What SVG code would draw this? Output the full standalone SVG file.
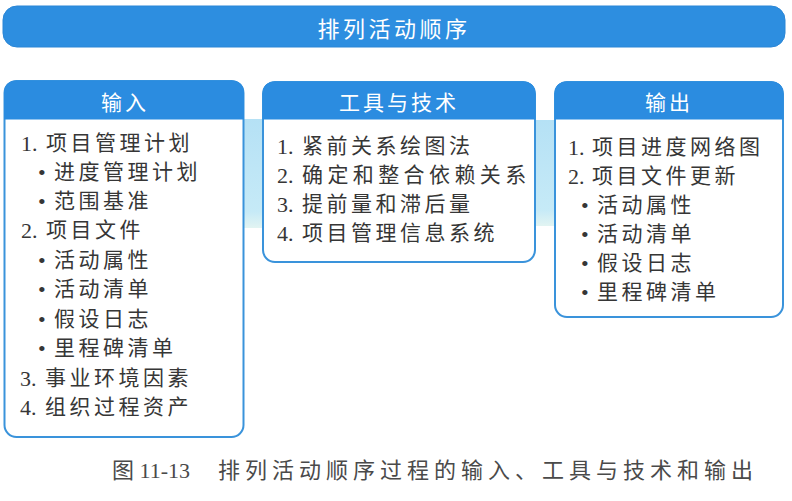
<svg xmlns="http://www.w3.org/2000/svg" width="792" height="501" viewBox="0 0 792 501">
  <defs>
    <linearGradient id="band" x1="0" y1="0" x2="0" y2="1">
      <stop offset="0" stop-color="#b5e1f5"/>
      <stop offset="0.85" stop-color="#c6eaf7"/>
      <stop offset="1" stop-color="#e2f4f2"/>
    </linearGradient>
  </defs>
  <style>
    .box { fill: #ffffff; stroke: #3a93db; stroke-width: 2; }
    .head { fill: #2b8ce0; stroke: #2b8ce0; stroke-width: 1; }
    .htxt { font-family: "Noto Sans CJK SC", "Liberation Serif", serif; font-size: 21px; fill: #ffffff; text-anchor: middle; dominant-baseline: central; letter-spacing: 3px; }
    .txt { font-family: "Liberation Serif", "Noto Sans CJK SC", serif; font-size: 21px; fill: #363636; dominant-baseline: central; letter-spacing: 3.5px; }
    .n { letter-spacing: 0px; font-size: 22px; }
    .cap { font-family: "Liberation Serif", "Noto Sans CJK SC", serif; font-size: 22px; fill: #4a4a4a; dominant-baseline: central; letter-spacing: 0px; }
    .capc { letter-spacing: 5px; }
  </style>
  <rect width="792" height="501" fill="#ffffff"/>

  <g id="connectors">
    <rect x="244" y="119" width="18" height="109" fill="url(#band)"/>
    <rect x="536" y="120" width="18" height="106" fill="url(#band)"/>
  </g>

  <g id="banner">
    <rect x="3" y="6" width="782" height="41" rx="14" fill="#2d8ee0" stroke="#2a86d6" stroke-width="1"/>
    <text class="htxt" x="394" y="27" style="font-size:22px;letter-spacing:3.5px">排列活动顺序</text>
  </g>

  <g id="inputs">
    <rect class="box" x="4.5" y="81" width="239" height="356" rx="12"/>
    <path class="head" d="M4.5,119 V93 Q4.5,81 16.5,81 H231.5 Q243.5,81 243.5,93 V119 Z"/>
    <text class="htxt" x="125" y="101">输入</text>
    <text class="txt" y="143"><tspan class="n" x="21">1.</tspan><tspan x="46">项目管理计划</tspan></text>
    <text class="txt" y="172"><tspan class="n" x="38">•</tspan><tspan x="54">进度管理计划</tspan></text>
    <text class="txt" y="201"><tspan class="n" x="38">•</tspan><tspan x="54">范围基准</tspan></text>
    <text class="txt" y="230"><tspan class="n" x="21">2.</tspan><tspan x="46">项目文件</tspan></text>
    <text class="txt" y="260"><tspan class="n" x="38">•</tspan><tspan x="54">活动属性</tspan></text>
    <text class="txt" y="289"><tspan class="n" x="38">•</tspan><tspan x="54">活动清单</tspan></text>
    <text class="txt" y="319"><tspan class="n" x="38">•</tspan><tspan x="54">假设日志</tspan></text>
    <text class="txt" y="348"><tspan class="n" x="38">•</tspan><tspan x="54">里程碑清单</tspan></text>
    <text class="txt" y="378"><tspan class="n" x="20">3.</tspan><tspan x="45">事业环境因素</tspan></text>
    <text class="txt" y="407"><tspan class="n" x="20">4.</tspan><tspan x="45">组织过程资产</tspan></text>
  </g>

  <g id="tools">
    <rect class="box" x="263" y="82" width="272" height="180" rx="12"/>
    <path class="head" d="M263,119 V94 Q263,82 275,82 H523 Q535,82 535,94 V119 Z"/>
    <text class="htxt" x="399" y="101">工具与技术</text>
    <text class="txt" y="146"><tspan class="n" x="277">1.</tspan><tspan x="302">紧前关系绘图法</tspan></text>
    <text class="txt" y="175"><tspan class="n" x="277">2.</tspan><tspan x="302" style="letter-spacing:4.4px">确定和整合依赖关系</tspan></text>
    <text class="txt" y="204"><tspan class="n" x="277">3.</tspan><tspan x="302">提前量和滞后量</tspan></text>
    <text class="txt" y="233"><tspan class="n" x="277">4.</tspan><tspan x="302">项目管理信息系统</tspan></text>
  </g>

  <g id="outputs">
    <rect class="box" x="555" y="82" width="228" height="235" rx="12"/>
    <path class="head" d="M555,119 V94 Q555,82 567,82 H771 Q783,82 783,94 V119 Z"/>
    <text class="htxt" x="669" y="101">输出</text>
    <text class="txt" y="147"><tspan class="n" x="568">1.</tspan><tspan x="592">项目进度网络图</tspan></text>
    <text class="txt" y="176"><tspan class="n" x="568">2.</tspan><tspan x="592">项目文件更新</tspan></text>
    <text class="txt" y="205"><tspan class="n" x="581">•</tspan><tspan x="597">活动属性</tspan></text>
    <text class="txt" y="234"><tspan class="n" x="581">•</tspan><tspan x="597">活动清单</tspan></text>
    <text class="txt" y="263"><tspan class="n" x="581">•</tspan><tspan x="597">假设日志</tspan></text>
    <text class="txt" y="292"><tspan class="n" x="581">•</tspan><tspan x="597">里程碑清单</tspan></text>
  </g>

  <g id="caption">
    <text class="cap" y="470"><tspan x="112">图 11-13</tspan><tspan class="capc" x="218">排列活动顺序过程的输入、工具与技术和输出</tspan></text>
  </g>
</svg>
